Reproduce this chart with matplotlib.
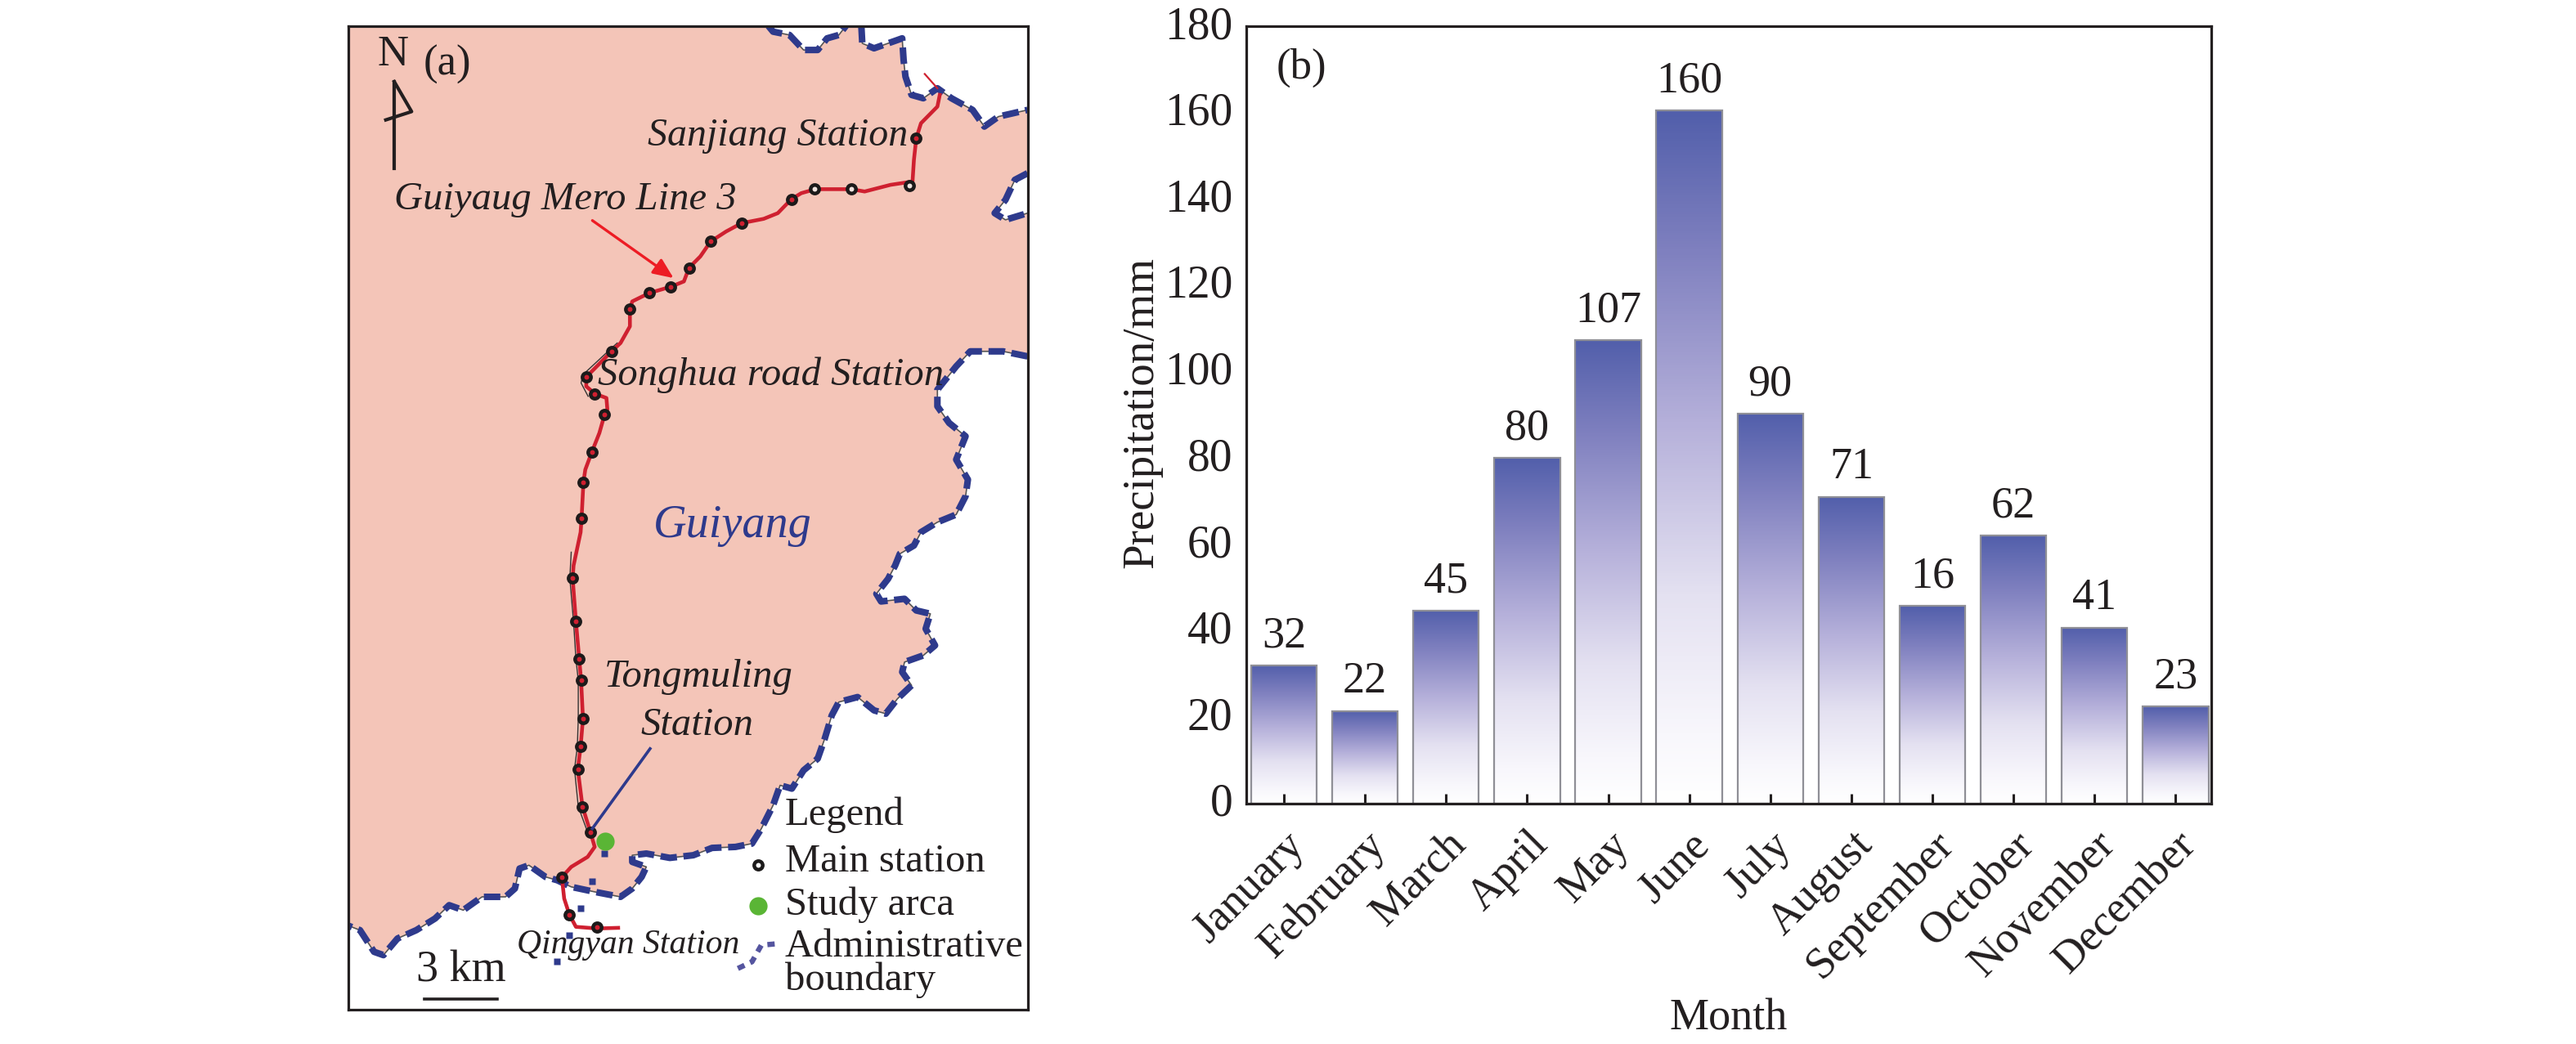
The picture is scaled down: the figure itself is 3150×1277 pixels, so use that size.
import numpy as np
import matplotlib
matplotlib.use("Agg")
import matplotlib.pyplot as plt
from matplotlib.colors import LinearSegmentedColormap
from matplotlib.patches import Polygon
from matplotlib.transforms import ScaledTranslation

plt.rcParams['font.family'] = ['Liberation Serif', 'DejaVu Serif']

# ---------- panel (b) data ----------
months = ['January', 'February', 'March', 'April', 'May', 'June', 'July',
          'August', 'September', 'October', 'November', 'December']
bar_heights = [32, 21.4, 44.7, 80, 107.3, 160.5, 90.2, 71, 45.8, 62, 40.7, 22.5]
bar_labels = ['32', '22', '45', '80', '107', '160', '90', '71', '16', '62', '41', '23']
y_ticks = [0, 20, 40, 60, 80, 100, 120, 140, 160, 180]

# ---------- panel (a) data, map units; south sheet is shifted by SOUTH ----------
SOUTH = 1568
notch_x = [940, 950, 985, 1015, 1045, 1065, 1090, 1105]
notch_y = [78, 95, 105, 150, 150, 115, 105, 78]
upper_x = [1138, 1140, 1165, 1195, 1225, 1228, 1232, 1245, 1270, 1300, 1330, 1375, 1400, 1430, 1492]
upper_y = [78, 130, 145, 130, 115, 180, 230, 285, 295, 265, 295, 330, 380, 350, 330]
inner_x = [1492, 1465, 1445, 1422, 1445, 1492]
inner_y = [520, 540, 600, 640, 660, 640]
east_x = [1492, 1440, 1370, 1340, 1300, 1300, 1325, 1360, 1340, 1365, 1360, 1340, 1300]
east_y = [1070, 1055, 1055, 1100, 1170, 1220, 1270, 1310, 1380, 1440, 1490, 1545, 1568]
south_x = [1265, 1250, 1220, 1210, 1195, 1170, 1180, 1230, 1255, 1285, 1275, 1295, 1270, 1230, 1225,
           1245, 1215, 1190, 1165, 1130, 1090, 1075, 1060, 1045, 1015, 990, 965, 950, 925, 905, 870,
           820, 780, 730, 680, 650, 650, 680, 670, 650, 625, 570, 520, 490, 465, 430, 410, 400, 380,
           330, 290, 260, 230, 190, 150, 120, 100, 70, 46]
south_y = [30, 70, 95, 130, 170, 215, 238, 230, 265, 275, 320, 370, 400, 420, 450,
           490, 530, 575, 565, 525, 540, 580, 650, 710, 745, 800, 790, 850, 920, 965, 975,
           978, 1000, 1008, 995, 1000, 1020, 1035, 1065, 1100, 1125, 1110, 1095, 1075, 1065, 1030, 1040, 1100, 1125,
           1125, 1165, 1150, 1190, 1225, 1250, 1300, 1290, 1225, 1212]
spur_x = [590, 565, 540, 515, 490]
spur_y = [995, 1078, 1160, 1240, 1320]

line_n_x = [1305, 1300, 1265, 1255, 1250, 1247, 1200, 1145, 1117, 1040, 1010, 989, 960, 930, 883, 850, 817,
            795, 771, 760, 732, 686, 650, 645, 645, 625, 606, 552, 552, 570, 595, 597, 591, 580, 564, 550,
            546, 542]
line_n_y = [285, 320, 370, 415, 480, 545, 555, 575, 568, 568, 580, 598, 640, 657, 670, 695, 725,
            770, 804, 845, 861, 880, 905, 928, 980, 1030, 1055, 1132, 1160, 1182, 1195, 1230, 1245, 1300, 1357, 1410,
            1448, 1557]
line_s_x = [540, 525, 523, 530, 537, 541, 545, 540, 534, 544, 561, 570, 555, 520, 500, 505, 516, 530, 575, 620]
line_s_y = [30, 130, 168, 298, 410, 475, 590, 674, 742, 854, 931, 975, 1005, 1035, 1066, 1130, 1178, 1215, 1220, 1218]
branch_x = [1273, 1300]
branch_y = [222, 265]
shadow_x = [520, 517, 525, 530, 535, 535, 533, 527, 535, 555]
shadow_y = [90, 168, 300, 410, 475, 590, 674, 742, 854, 931]
shadow2_x = [618, 606, 545, 541, 556]
shadow2_y = [1030, 1045, 1125, 1150, 1190]

st_n_x = [1255, 989, 883, 817, 771, 732, 686, 645, 606, 552, 570, 591, 564, 546, 542]
st_n_y = [415, 598, 670, 725, 804, 861, 880, 928, 1055, 1132, 1182, 1245, 1357, 1448, 1557]
st_s_x = [523, 530, 537, 541, 545, 540, 534, 544, 561, 500, 516, 575]
st_s_y = [168, 298, 410, 475, 590, 674, 742, 854, 931, 1066, 1178, 1216]
st_open_x = [1241, 1117, 1039]
st_open_y = [557, 568, 566]
study_x, study_y = [592], [958]
legend_line_x = [875, 905, 925, 965]
legend_line_y = [1340, 1320, 1270, 1265]

W, H = 3150, 1277
fig = plt.figure(figsize=(W / 100, H / 100), dpi=100, facecolor='white')

PINK = '#f4c5b8'
NAVY = '#2e3a8c'
INK = '#231f20'
RED = '#cf2030'

# ---------- panel (a) ----------
L, R, T, B = 426.4, 1256.5, 31.8, 1234.7
ax = fig.add_axes([L / W, 1 - B / H, (R - L) / W, (B - T) / H])
ax.set_xlim(46, 1492)
ax.set_ylim(1463 + SOUTH, 78)
ax.set_xticks([])
ax.set_yticks([])
for s in ax.spines.values():
    s.set_linewidth(2.3)
    s.set_color(INK)
    s.set_zorder(20)

sy = lambda v: list(np.asarray(v) + SOUTH)
east_full_x = east_x + south_x
east_full_y = east_y + sy(south_y)
poly_x = [46] + notch_x + upper_x + inner_x + east_full_x
poly_y = [78] + notch_y + upper_y + inner_y + east_full_y
ax.add_patch(Polygon(np.column_stack([poly_x, poly_y]), closed=True, fc=PINK, ec='none', zorder=1))


def boundary(x, y):
    ax.plot(x, y, color='#555555', lw=1.2, zorder=2)
    ax.plot(x, y, color=NAVY, lw=5.8, dashes=(2.5, 1.0), zorder=3)


boundary(notch_x, notch_y)
boundary(upper_x, upper_y)
boundary(inner_x, inner_y)
boundary(east_full_x, east_full_y)
ax.plot(spur_x, sy(spur_y), ls='none', marker='s', ms=5.5, color=NAVY, mec='none', zorder=3)

ax.plot(shadow_x, sy(shadow_y), color='#333333', lw=1.0, zorder=4)
ax.plot(shadow2_x, shadow2_y, color='#333333', lw=1.0, zorder=4)
ax.plot(line_n_x + line_s_x, line_n_y + sy(line_s_y), color=RED, lw=3.3, zorder=5)
ax.plot(branch_x, branch_y, color=RED, lw=1.6, zorder=5)

ax.plot(st_n_x + st_s_x, st_n_y + sy(st_s_y), ls='none', marker='o', ms=7.5, mfc=RED, mec='#1c1a1a', mew=3.2, zorder=6)
ax.plot(st_open_x, st_open_y, ls='none', marker='o', ms=7.5, mfc='#f0e4df', mec='#1c1a1a', mew=3.2, zorder=6)
ax.plot(study_x, sy(study_y), ls='none', marker='o', ms=16, color='#5ab535', mec='none', zorder=6)

# north arrow
ax.plot([143, 143], [505, 245], color=INK, lw=3, zorder=7)
ax.plot([143, 180, 125], [245, 335, 360], color=INK, lw=3, zorder=7)

# pointers
ax.annotate('', xy=(738, 835), xytext=(565, 662),
            arrowprops=dict(arrowstyle='-|>,head_length=1.5,head_width=0.65', color='#ed1c24', lw=2.4,
                            shrinkA=0, shrinkB=0), zorder=7)
ax.plot([688, 565], sy([680, 920]), color=NAVY, lw=2.6, zorder=7)

# scale bar and legend marks
ax.plot([207, 363], sy([1433, 1433]), color=INK, lw=2.6, zorder=7)
ax.plot([918], sy([1030]), ls='none', marker='o', ms=7.5, mfc='white', mec='#1c1a1a', mew=3.2, zorder=7)
ax.plot([918], sy([1152]), ls='none', marker='o', ms=16, color='#5ab535', mec='none', zorder=7)
ax.plot(legend_line_x, sy(legend_line_y), color='#55559f', lw=4.6, dashes=(1.4, 1.2), zorder=7)

mt = dict(color=INK, ha='left', va='baseline', zorder=8)
ax.text(108, 197, 'N', fontsize=38, **mt)
ax.text(205, 225, '(a)', fontsize=38, **mt)
ax.text(682, 437, 'Sanjiang Station', fontsize=34.5, style='italic', **mt)
ax.text(142, 628, 'Guiyaug Mero Line 3', fontsize=35, style='italic', **mt)
ax.text(577, 1157, 'Songhua road Station', fontsize=35, style='italic', **mt)
ax.text(695, 45 + SOUTH, 'Guiyang', fontsize=40.5, style='italic', color=NAVY, ha='left', va='baseline', zorder=8)
ax.text(590, 495 + SOUTH, 'Tongmuling', fontsize=35, style='italic', **mt)
ax.text(668, 640 + SOUTH, 'Station', fontsize=35, style='italic', **mt)
ax.text(405, 1295 + SOUTH, 'Qingyan Station', fontsize=30, style='italic', **mt)
ax.text(190, 1378 + SOUTH, '3 km', fontsize=39, **mt)
ax.text(975, 910 + SOUTH, 'Legend', fontsize=35, **mt)
ax.text(975, 1050 + SOUTH, 'Main station', fontsize=35, **mt)
ax.text(975, 1180 + SOUTH, 'Study arca', fontsize=35, **mt)
ax.text(975, 1305 + SOUTH, 'Administrative', fontsize=35, **mt)
ax.text(975, 1405 + SOUTH, 'boundary', fontsize=35, **mt)

# ---------- panel (b) ----------
L2, R2, T2, B2 = 1524, 2704, 32, 983
bx = fig.add_axes([L2 / W, 1 - B2 / H, (R2 - L2) / W, (B2 - T2) / H])
cmap = LinearSegmentedColormap.from_list(
    'rain', [(0.0, '#ffffff'), (0.1, '#f8f7fc'), (0.3, '#e4e1f1'), (0.55, '#b5b0da'),
             (0.8, '#7f80bf'), (1.0, '#525fab')])
grad = np.linspace(1, 0, 256).reshape(-1, 1)
xs = np.arange(len(months))
BW = 0.81
for x, h, lab in zip(xs, bar_heights, bar_labels):
    bx.imshow(grad, extent=(x - BW / 2, x + BW / 2, 0, h), cmap=cmap, vmin=0, vmax=1,
              aspect='auto', interpolation='bilinear', zorder=2)
    bx.text(x, h + 2.0, lab, ha='center', va='bottom', fontsize=39, color=INK, zorder=4)
bx.bar(xs, bar_heights, width=BW, facecolor='none', edgecolor='#8f8f96', linewidth=1.6, zorder=3)

bx.set_axisbelow(False)
bx.set_xlim(-0.464, 11.44)
bx.set_ylim(0, 180)
bx.set_yticks(y_ticks)
bx.set_xticks(xs)
bx.set_xticklabels(months, rotation=45, ha='right', rotation_mode='anchor')
bx.tick_params(axis='y', length=0, pad=12, labelsize=40, labelcolor=INK)
bx.tick_params(axis='x', direction='in', length=9, width=2.2, color=INK, pad=18, labelsize=39, labelcolor=INK)
up = ScaledTranslation(0, 0.05, fig.dpi_scale_trans)
for lbl in bx.get_yticklabels():
    lbl.set_transform(lbl.get_transform() + up)
for lbl in bx.get_xticklabels():
    lbl.set_va('top')
for s in bx.spines.values():
    s.set_linewidth(2.3)
    s.set_color(INK)
    s.set_zorder(20)
bx.set_ylabel('Precipitation/mm', fontsize=39.5, color=INK, va='center')
bx.yaxis.set_label_coords(-0.108, 0.503)
bx.set_xlabel('Month', fontsize=39, color=INK, va='center')
bx.xaxis.set_label_coords(0.5, -0.277)
bx.text((1561 - L2) / (R2 - L2), (B2 - 96) / (B2 - T2), '(b)', fontsize=38, color=INK,
        ha='left', va='baseline', transform=bx.transAxes)

fig.savefig('out.png', dpi=100, facecolor='white')
